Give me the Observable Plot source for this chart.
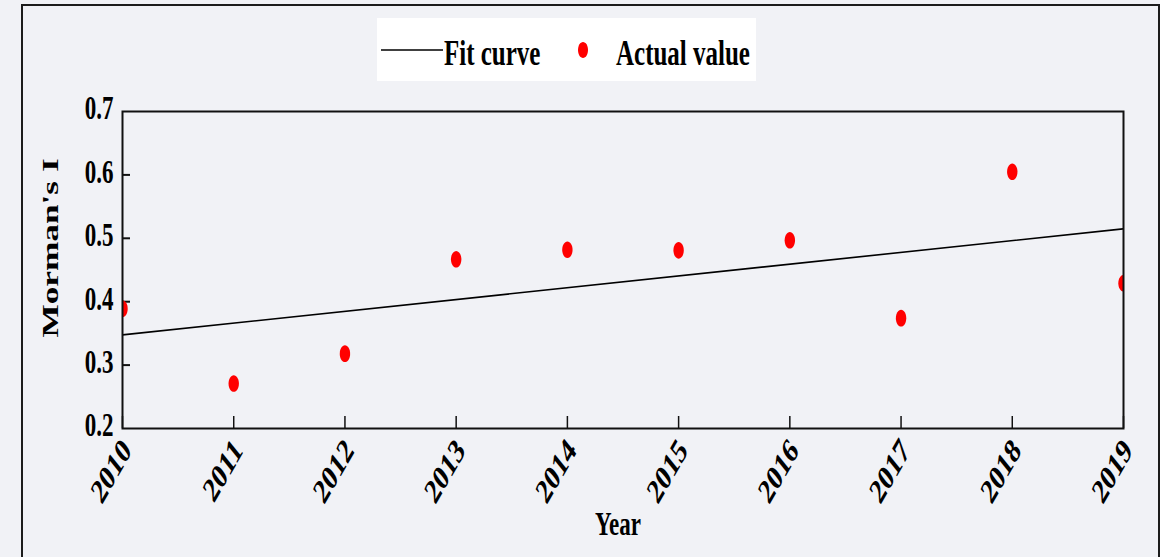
<!DOCTYPE html>
<html>
<head>
<meta charset="utf-8">
<script src="https://cdn.jsdelivr.net/npm/d3@7"></script>
<script src="https://cdn.jsdelivr.net/npm/@observablehq/plot@0.6"></script>
<style>
  html, body { margin: 0; padding: 0; background: #f1f2f6; overflow: hidden; }
  #fig { position: relative; width: 1160px; height: 557px; overflow: hidden; background: #f1f2f6; }
  #fig > svg.chart { position: absolute; left: 0; top: 0; }
  #border { position: absolute; left: 21px; top: 4px; width: 1139px; height: 700px;
            border: 2px solid #1c1c1c; box-sizing: border-box; pointer-events: none; }
  #fig > svg#legend { position: absolute; left: 377px; top: 18px; }
</style>
</head>
<body>
<div id="fig"><div id="border"></div></div>
<script>
// Moran's I by year
const years = [2010, 2011, 2012, 2013, 2014, 2015, 2016, 2017, 2018, 2019];
const moranI = [0.389, 0.271, 0.318, 0.467, 0.482, 0.481, 0.497, 0.374, 0.605, 0.429];

// Axis ticks and titles
const yTicks = [0.2, 0.3, 0.4, 0.5, 0.6, 0.7];
const yInnerTicks = [0.3, 0.4, 0.5, 0.6];
const xTitle = "Year";
const yTitle = "Morman's I";
const legendLabels = ["Fit curve", "Actual value"];

const data = years.map((year, i) => ({year, value: moranI[i]}));

// Text glyphs are drawn tall and narrow
const STRETCH = 1.47;
const FONT = "'Liberation Serif', 'Times New Roman', serif";

const W = 1160, H = 557;
const mL = 122, mR = 37, mT = 111, mB = 129;
const innerW = W - mL - mR, innerH = H - mT - mB;

// Upright ellipse symbol for the observed values
const ellipse = {
  draw(ctx, size) {
    const r = Math.sqrt(size / Math.PI);
    const rx = r, ry = r * 1.6, k = 0.5523;
    ctx.moveTo(rx, 0);
    ctx.bezierCurveTo(rx, ry * k, rx * k, ry, 0, ry);
    ctx.bezierCurveTo(-rx * k, ry, -rx, ry * k, -rx, 0);
    ctx.bezierCurveTo(-rx, -ry * k, -rx * k, -ry, 0, -ry);
    ctx.bezierCurveTo(rx * k, -ry, rx, -ry * k, rx, 0);
    ctx.closePath();
  }
};

const chart = Plot.plot({
  width: W,
  height: H,
  marginLeft: mL,
  marginRight: mR,
  marginTop: mT,
  marginBottom: mB,
  style: {background: "transparent", fontFamily: FONT, overflow: "visible"},
  x: {domain: [2010, 2019], axis: null},
  y: {domain: [0.2, 0.7], axis: null},
  marks: [
    // inward tick marks
    Plot.ruleX(years, {x: d => d, insetTop: innerH - 12, stroke: "#111", strokeWidth: 1.5}),
    Plot.ruleY(yInnerTicks, {y: d => d, insetRight: innerW - 8, stroke: "#111", strokeWidth: 2}),
    // fitted trend
    Plot.linearRegressionY(data, {x: "year", y: "value", ci: 0, stroke: "#000", strokeWidth: 1.6, clip: true}),
    // observed values
    Plot.dot(data, {x: "year", y: "value", r: 5.2, symbol: ellipse, fill: "#ff0000", stroke: "none", clip: true}),
    Plot.frame({stroke: "#111", strokeWidth: 2}),
    // tick labels
    Plot.text(yTicks, {y: d => d, frameAnchor: "left", text: d => d.toFixed(1), textAnchor: "end",
                       dx: -9, dy: -3, fontSize: 23, fontWeight: "bold", fill: "#000"}),
    Plot.text(years, {x: d => d, frameAnchor: "bottom", text: d => String(d), textAnchor: "end",
                      rotate: -50, dx: 10, dy: 23, fontSize: 24, fontWeight: "bold", fill: "#000"}),
    // axis titles
    Plot.text([xTitle], {frameAnchor: "bottom", text: d => d, textAnchor: "middle", dx: -5, dy: 106,
                         fontSize: 23, fontWeight: "bold", fill: "#000"}),
    Plot.text([yTitle], {frameAnchor: "left", text: d => d, textAnchor: "middle", rotate: -90, dx: -72, dy: -22,
                         fontSize: 24, fontWeight: "bold", fill: "#000"})
  ]
});
chart.classList.add("chart");

// Stretch every label vertically (before any rotation)
d3.select(chart).selectAll("text").each(function () {
  const t = this.getAttribute("transform");
  if (t && /rotate/.test(t)) {
    this.setAttribute("transform", t.replace(/rotate/, `scale(1,${STRETCH}) rotate`));
  } else if (t) {
    this.setAttribute("transform", `${t} scale(1,${STRETCH})`);
  } else {
    const x = parseFloat(this.getAttribute("x")) || 0;
    const y = parseFloat(this.getAttribute("y")) || 0;
    this.removeAttribute("x");
    this.removeAttribute("y");
    this.setAttribute("transform", `translate(${x},${y}) scale(1,${STRETCH})`);
  }
});

const fig = document.getElementById("fig");
fig.insertBefore(chart, fig.firstChild);

// Legend box
const leg = d3.create("svg")
  .attr("id", "legend")
  .attr("width", 379)
  .attr("height", 64)
  .style("font-family", FONT);
leg.append("rect").attr("width", 379).attr("height", 63).attr("fill", "#ffffff");
leg.append("line").attr("x1", 4).attr("x2", 66).attr("y1", 32).attr("y2", 32)
  .attr("stroke", "#000").attr("stroke-width", 1.5);
leg.append("text").attr("transform", `translate(67,47) scale(1,${STRETCH})`)
  .attr("font-size", 25).attr("font-weight", "bold").text(legendLabels[0]);
leg.append("path").attr("transform", "translate(206,32)")
  .attr("d", d3.symbol(ellipse, 5 * 5 * Math.PI)()).attr("fill", "#ff0000");
leg.append("text").attr("transform", `translate(239,47) scale(1,${STRETCH})`)
  .attr("font-size", 25).attr("font-weight", "bold").text(legendLabels[1]);
fig.appendChild(leg.node());
</script>
</body>
</html>
